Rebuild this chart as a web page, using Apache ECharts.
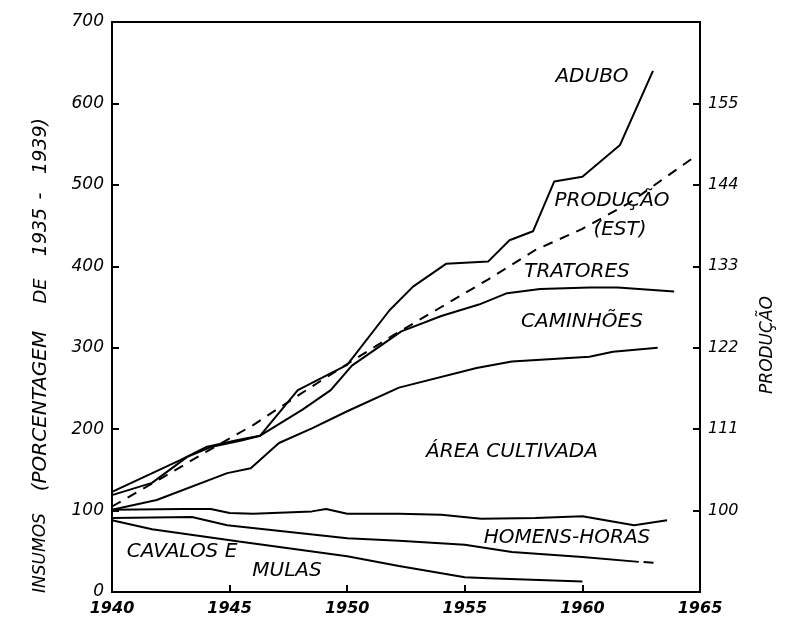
<!DOCTYPE html>
<html>
<head>
<meta charset="utf-8">
<script src="https://cdn.jsdelivr.net/npm/echarts@6/dist/echarts.min.js"></script>
<style>
html,body{margin:0;padding:0;background:#fff;}
#chart{width:787px;height:621px;}
</style>
</head>
<body>
<div id="chart"></div>
<script>
// ---- data (index, 1935-1939 = 100) ----
const xTicks = [1940, 1945, 1950, 1955, 1960, 1965];
const leftTicks = [0, 100, 200, 300, 400, 500, 600, 700];
const rightTickLabels = ['100', '111', '122', '133', '144', '155'];

const adubo = [[1940,119],[1941.7,134],[1943.2,166],[1944.2,178],[1945.5,186],[1946.3,192],[1947.9,248],[1950,279],[1951.8,346],[1952.8,375],[1954.2,403],[1956,406],[1956.9,432],[1957.9,443],[1958.8,504],[1960,510],[1961.6,549],[1963,640]];
const tratores = [[1940,123],[1942.9,162],[1944,178],[1945.4,187],[1946.3,192],[1948.1,224],[1949.3,248],[1950.2,278],[1952.3,320],[1954,339],[1955.6,353],[1956.8,367],[1958.2,372],[1960.3,374],[1961.5,374],[1963.9,369]];
const producaoEst = [[1940,105],[1942,138],[1944,172],[1946,205],[1948,243],[1950,280],[1952,316],[1954,350],[1956,384],[1958,420],[1960,446],[1962,478],[1964.7,533]];
const caminhoes = [[1940,101],[1941.9,113],[1944.9,146],[1945.9,152],[1947.1,183],[1948.5,201],[1950,222],[1952.2,251],[1955.5,275],[1957,283],[1960.3,289],[1961.3,295],[1963.2,300]];
const areaCultivada = [[1940,101],[1943,102],[1944.2,102],[1945,97],[1946,96],[1948.5,99],[1949.1,102],[1950,96],[1952.2,96],[1954,95],[1955.7,90],[1958,91],[1960,93],[1962.2,82],[1963.6,88]];
const homensHoras = [[1940,91],[1943.4,92],[1944.9,82],[1950,66],[1952.2,63],[1955,58],[1957,49],[1960,43],[1962.4,37]];
const homensHorasProj = [[1962.6,36.8],[1963.3,35.5]];
const cavalosMulas = [[1940,88],[1941.7,77],[1945.4,62],[1950,44],[1952.2,32],[1955,18],[1956,17],[1960,13]];

const FONT = '"DejaVu Sans", sans-serif';
const chart = echarts.init(document.getElementById('chart'), null, {renderer: 'canvas'});

function lineSeries(name, data, dashed) {
  return {
    name: name, type: 'line', data: data, showSymbol: false, smooth: false,
    silent: true, animation: false,
    lineStyle: {color: '#000', width: 2, type: dashed ? [10, 8] : 'solid'}
  };
}

const labelStyle = {fontFamily: FONT, fontStyle: 'italic', fontSize: 20, fill: '#000', textAlign: 'center', textVerticalAlign: 'middle'};
function txt(text, x, y, extra) {
  return Object.assign({type: 'text', x: x, y: y, silent: true,
    style: Object.assign({text: text}, labelStyle, extra || {})});
}
function vtxt(text, x, y, size) {
  return {type: 'text', x: x, y: y, rotation: Math.PI / 2, silent: true,
    style: Object.assign({}, labelStyle, {text: text, fontSize: size || 18})};
}

const option = {
  backgroundColor: '#fff',
  animation: false,
  grid: {left: 112, right: 87, top: 22, bottom: 29, show: true, borderColor: '#000', borderWidth: 2, backgroundColor: 'transparent'},
  xAxis: {
    type: 'value', min: xTicks[0], max: xTicks[xTicks.length - 1], interval: 5,
    axisLine: {show: true, lineStyle: {color: '#000', width: 2}},
    axisTick: {show: true, inside: true, length: 7, lineStyle: {color: '#000', width: 2}},
    axisLabel: {color: '#000', fontFamily: FONT, fontStyle: 'italic', fontWeight: 'bold', fontSize: 16, margin: 9,
      formatter: v => xTicks.indexOf(v) >= 0 ? String(v) : ''},
    splitLine: {show: false}
  },
  yAxis: [
    {
      type: 'value', min: leftTicks[0], max: leftTicks[leftTicks.length - 1], interval: 100, position: 'left',
      axisLine: {show: true, lineStyle: {color: '#000', width: 2}},
      axisTick: {show: true, inside: true, length: 7, lineStyle: {color: '#000', width: 2}},
      axisLabel: {color: '#000', fontFamily: FONT, fontStyle: 'italic', fontSize: 17, margin: 8,
        formatter: v => leftTicks.indexOf(v) >= 0 ? String(v) : ''},
      splitLine: {show: false}
    },
    {
      type: 'value', min: 0, max: 700, interval: 100, position: 'right',
      axisLine: {show: true, lineStyle: {color: '#000', width: 2}},
      axisTick: {show: true, inside: true, length: 7, lineStyle: {color: '#000', width: 2}},
      axisLabel: {color: '#000', fontFamily: FONT, fontStyle: 'italic', fontSize: 16, margin: 8,
        formatter: v => { const i = v / 100 - 1; return (i >= 0 && i < rightTickLabels.length) ? rightTickLabels[i] : ''; }},
      splitLine: {show: false}
    }
  ],
  series: [
    lineSeries('ADUBO', adubo),
    lineSeries('TRATORES', tratores),
    lineSeries('PRODUÇÃO (EST)', producaoEst, true),
    lineSeries('CAMINHÕES', caminhoes),
    lineSeries('ÁREA CULTIVADA', areaCultivada),
    lineSeries('HOMENS-HORAS', homensHoras),
    lineSeries('HOMENS-HORAS (proj.)', homensHorasProj, true),
    lineSeries('CAVALOS E MULAS', cavalosMulas)
  ],
  graphic: [
    txt('ADUBO', 592, 77),
    txt('PRODUÇÃO', 612, 201),
    txt('(EST)', 620, 230),
    txt('TRATORES', 577, 272),
    txt('CAMINHÕES', 582, 322),
    txt('ÁREA CULTIVADA', 512, 452),
    txt('HOMENS-HORAS', 567, 538),
    txt('CAVALOS E', 182, 552),
    txt('MULAS', 287, 571),
    vtxt('INSUMOS', 41, 553, 17),
    vtxt('(PORCENTAGEM', 41, 411, 20),
    vtxt('DE', 41, 291, 18),
    vtxt('1935', 41, 232, 19),
    vtxt('-', 41, 196, 19),
    vtxt('1939)', 41, 146, 19),
    vtxt('PRODUÇÃO', 768, 345, 17)
  ]
};
chart.setOption(option);
</script>
</body>
</html>
